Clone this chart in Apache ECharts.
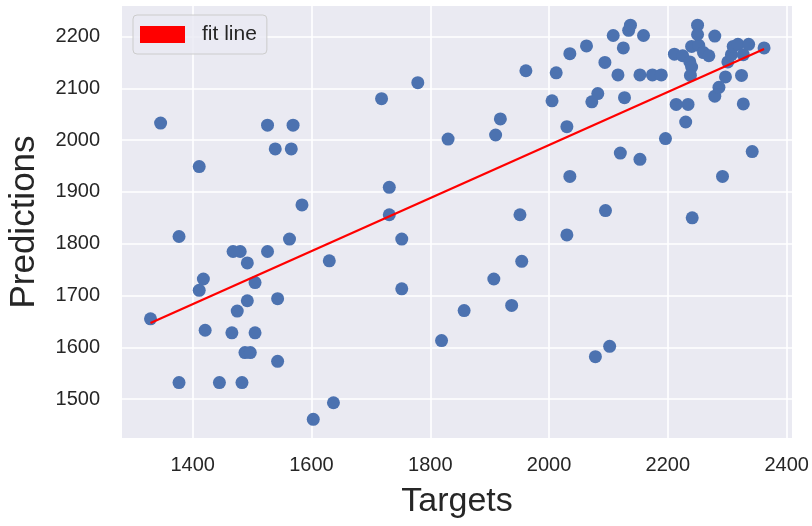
<!DOCTYPE html>
<html>
<head>
<meta charset="utf-8">
<script src="https://cdn.jsdelivr.net/npm/echarts@6/dist/echarts.min.js"></script>
<style>
html,body{margin:0;padding:0;background:#fff;}
#chart{width:812px;height:526px;}
</style>
</head>
<body>
<div id="chart"></div>
<script>
// Scatter data
const targets = [
  1329,1346,1377,1377,1411,1411,1418,1421,1445,1466,
  1468,1480,1475,1483,1488,1497,1492,1492,1505,1505,
  1526,1526,1539,1543,1543,1563,1566,1569,1584,1603,
  1630,1637,1718,1731,1731,1752,1752,1779,1819,1830,
  1857,1907,1910,1918,1937,1951,1954,1961,2005,2012,
  2030,2035,2030,2035,2063,2072,2082,2078,2094,2095,
  2102,2108,2116,2120,2125,2127,2134,2137,2153,2153,
  2159,2174,2189,2196,2211,2214,2225,2230,2234,2237,
  2240,2238,2240,2252,2250,2250,2260,2269,2241,2279,
  2279,2286,2292,2297,2301,2307,2310,2318,2327,2324,
  2327,2336,2342,2362
];
const predictions = [
  1655,2033,1814,1532,1949,1710,1732,1633,1532,1628,
  1785,1785,1670,1532,1590,1590,1763,1690,1725,1628,
  1785,2029,1983,1694,1573,1809,1983,2029,1875,1461,
  1767,1493,2080,1909,1856,1809,1713,2111,1613,2002,
  1671,1732,2010,2041,1681,1856,1766,2134,2076,2130,
  2026,1930,1817,2167,2182,2074,2090,1582,2150,1864,
  1602,2202,2126,1975,2178,2082,2212,2222,2126,1963,
  2202,2126,2126,2003,2166,2069,2163,2035,2069,2151,
  2141,2125,2181,2183,2222,2204,2169,2163,1850,2201,
  2085,2102,1930,2122,2151,2165,2181,2185,2165,2125,
  2070,2185,1978,2178
];
// Fit line endpoints
const fitX = [1329, 2362];
const fitY = [1647, 2176];
// Tick labels
const xTicks = [1400, 1600, 1800, 2000, 2200, 2400];
const yTicks = [1500, 1600, 1700, 1800, 1900, 2000, 2100, 2200];

const scatterData = targets.map((t, i) => [t, predictions[i]]);
const fitData = fitX.map((x, i) => [x, fitY[i]]);

const FONT = "'Liberation Sans', Arial, sans-serif";
const TXT = '#262626';

const chart = echarts.init(document.getElementById('chart'), null, {renderer: 'canvas'});
chart.setOption({
  animation: false,
  backgroundColor: '#ffffff',
  grid: {left: 122, right: 20, top: 6, bottom: 88, show: true, backgroundColor: '#EAEAF2', borderWidth: 0,
         containLabel: false, outerBoundsMode: 'none'},
  xAxis: {
    type: 'value', min: 1281, max: 2409,
    name: 'Targets', nameLocation: 'middle', nameGap: 47,
    nameTextStyle: {fontFamily: FONT, fontSize: 34, color: TXT},
    axisLine: {show: false},
    axisTick: {show: false, customValues: xTicks},
    axisLabel: {customValues: xTicks, formatter: v => String(v), fontFamily: FONT, fontSize: 20, color: TXT, margin: 17},
    splitLine: {show: true, lineStyle: {color: '#ffffff', width: 1.6}}
  },
  yAxis: {
    type: 'value', min: 1425, max: 2259,
    name: 'Predictions', nameLocation: 'middle', nameGap: 80,
    nameTextStyle: {fontFamily: FONT, fontSize: 35, color: TXT},
    axisLine: {show: false},
    axisTick: {show: false, customValues: yTicks},
    axisLabel: {customValues: yTicks, formatter: v => String(v), fontFamily: FONT, fontSize: 20, color: TXT, margin: 22},
    splitLine: {show: true, lineStyle: {color: '#ffffff', width: 1.6}}
  },
  legend: {
    left: 133, top: 15,
    orient: 'horizontal',
    padding: [9, 10, 9, 7],
    itemWidth: 45, itemHeight: 17,
    backgroundColor: 'rgba(234,234,242,0.8)',
    borderColor: '#cccccc', borderWidth: 1, borderRadius: 4,
    textStyle: {fontFamily: FONT, fontSize: 21, color: TXT, padding: [0, 0, 0, 12]},
    data: [{name: 'fit line', icon: 'rect', itemStyle: {color: '#ff0000'}}]
  },
  series: [
    {
      type: 'scatter', name: 'points',
      data: scatterData,
      symbolSize: 13,
      itemStyle: {color: '#4C72B0', opacity: 1},
      z: 2
    },
    {
      type: 'line', name: 'fit line',
      data: fitData,
      showSymbol: false, symbol: 'none',
      lineStyle: {color: '#ff0000', width: 2.2},
      itemStyle: {color: '#ff0000'},
      z: 3
    }
  ]
});
</script>
</body>
</html>
